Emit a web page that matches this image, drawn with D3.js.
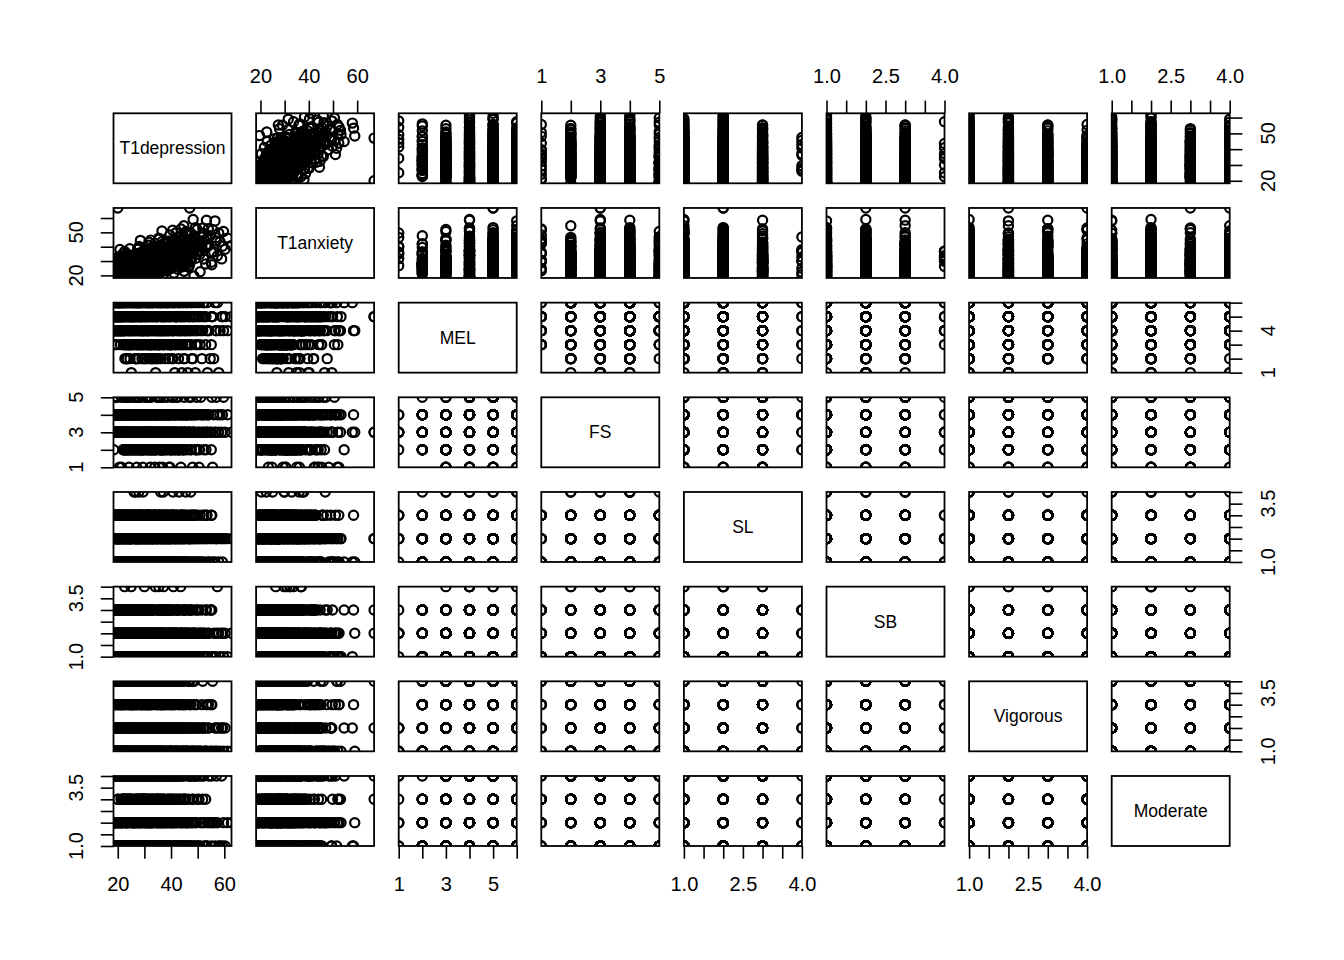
<!DOCTYPE html>
<html><head><meta charset="utf-8">
<script src="https://cdn.jsdelivr.net/npm/d3@7"></script>
<style>
body{margin:0;background:#fff;}
svg text{font-family:"Liberation Sans",Arial,Helvetica,sans-serif;}
</style>
</head><body>
<svg id="chart" width="1344" height="960"></svg>
<script>
// ---- variables (diagonal labels) ----
const varNames = ["T1depression","T1anxiety","MEL","FS","SL","SB","Vigorous","Moderate"];

const T1depression = [
18.4,18.6,18.9,19.1,19.3,19.5,19.6,19.8,20.0,20.1,20.3,20.4,20.6,20.7,20.9,21.0,21.2,21.3,21.5,21.6,
21.8,21.9,18.5,18.8,19.0,19.4,19.7,20.2,20.5,20.8,21.1,21.4,21.7,18.7,19.2,19.9,20.6,21.2,21.8,22.0,
22.1,22.2,22.4,22.5,22.7,22.8,23.0,23.1,23.3,23.4,23.6,23.7,23.9,24.0,24.2,24.3,24.5,24.6,24.8,24.9,
25.1,25.2,25.4,25.5,25.7,25.8,22.3,22.9,23.5,24.1,24.7,25.3,25.9,22.6,23.2,23.8,24.4,25.0,25.6,26.0,
26.1,26.2,26.4,26.5,26.7,26.8,27.0,27.1,27.3,27.4,27.6,27.7,27.9,28.0,28.2,28.3,28.5,28.6,28.8,28.9,
29.1,29.2,29.4,29.5,29.7,29.8,26.3,26.9,27.5,28.1,28.7,29.3,29.9,26.6,27.2,27.8,28.4,29.0,29.6,30.0,
30.1,30.3,30.4,30.6,30.7,30.9,31.0,31.2,31.3,31.5,31.6,31.8,31.9,32.1,32.2,32.4,32.5,32.7,32.8,33.0,
33.1,33.3,33.4,33.6,33.7,33.9,30.2,30.8,31.4,32.0,32.6,33.2,33.8,30.5,31.1,31.7,32.3,32.9,
34.1,34.2,34.4,34.6,34.7,34.9,35.1,35.2,35.4,35.6,35.7,35.9,36.1,36.2,36.4,36.6,36.7,36.9,37.1,37.2,
37.4,37.6,37.7,37.9,34.3,34.8,35.3,35.8,36.3,36.8,37.3,37.8,35.0,36.5,
38.1,38.3,38.4,38.6,38.8,38.9,39.1,39.3,39.4,39.6,39.8,39.9,40.1,40.3,40.4,40.6,40.8,40.9,41.1,41.3,
41.4,41.6,41.8,41.9,38.5,39.2,39.7,40.2,40.7,41.5,
42.1,42.3,42.5,42.6,42.8,43.0,43.2,43.4,43.5,43.7,43.9,44.1,44.2,44.4,44.6,44.8,44.9,45.1,45.3,45.5,
45.6,45.8,42.9,43.6,44.3,45.0,
46.1,46.3,46.6,46.8,47.1,47.3,47.6,47.8,48.1,48.3,48.6,48.8,49.1,49.3,49.6,49.8,46.5,47.4,48.4,49.5,
50.2,50.5,50.9,51.2,51.6,51.9,52.3,52.6,53.0,53.3,53.7,50.7,52.1,53.5,
54.2,54.7,55.1,55.6,56.0,56.5,57.0,57.4,57.9,55.3,
58.4,59.0,59.7,60.3,61.2,62.7,
20.0,47.0,
18.5,18.8,19.0,19.3,19.6,19.9,20.2,20.5,20.8,21.1,21.4,21.7,18.6,18.9,19.2,19.5,19.8,20.1,20.4,20.7,
21.0,21.3,21.6,21.9,18.7,19.4,20.0,20.6,21.2,21.8,
22.1,22.4,22.7,23.0,23.3,23.6,23.9,24.2,24.5,24.8,25.1,25.4,25.7,22.2,22.5,22.8,23.1,23.4,23.7,24.0,
24.3,24.6,24.9,25.2,25.5,25.8,22.6,23.5,24.4,25.3,
26.1,26.4,26.7,27.0,27.3,27.6,27.9,28.2,28.5,28.8,29.1,29.4,29.7,26.2,26.5,26.8,27.1,27.4,27.7,28.0,
28.3,28.6,28.9,29.2,29.5,29.8,26.6,27.5,28.4,29.3,
30.1,30.4,30.7,31.0,31.3,31.6,31.9,32.2,32.5,32.8,33.1,33.4,33.7,30.2,30.5,30.8,31.1,31.4,31.7,32.0,
32.3,32.6,32.9,33.2,33.5,33.8,31.5,32.4,
34.0,34.3,34.6,34.9,35.2,35.5,35.8,36.1,36.4,36.7,37.0,37.3,37.6,37.9,34.2,34.5,34.8,35.1,35.4,35.7,
36.0,36.3,36.6,36.9,37.2,37.5,
38.0,38.3,38.6,38.9,39.2,39.5,39.8,40.1,40.4,40.7,41.0,41.3,41.6,41.9,38.2,38.8,39.4,40.0,40.6,41.2,
41.8,39.1,
42.0,42.4,42.8,43.2,43.6,44.0,44.4,44.8,45.2,45.6,42.2,43.0,43.8,44.6,45.4,45.9,
46.2,46.7,47.2,47.7,48.2,48.7,49.2,49.7,46.9,48.0,
50.4,51.3,52.2,53.1,54.0,55.2,
56.8,59.3];

const T1anxiety = [
18.2,19.5,22.1,18.8,25.3,20.4,27.6,19.1,23.0,30.2,18.5,21.7,24.8,26.9,19.8,22.6,33.5,20.9,18.3,28.4,
23.7,21.2,24.1,19.0,26.2,31.8,22.9,18.6,20.1,38.0,25.7,23.3,19.4,21.5,27.0,18.9,24.5,20.6,29.1,22.3,
20.3,24.7,18.4,28.9,22.5,31.6,19.7,26.1,23.4,35.2,21.0,27.8,18.7,25.5,30.4,22.0,38.6,24.2,19.3,29.7,
26.8,21.6,33.9,23.1,18.9,27.3,25.0,20.8,32.2,22.8,28.1,19.9,24.9,36.7,21.3,26.5,23.8,30.9,20.2,25.8,
22.4,27.9,19.2,31.5,25.0,34.8,20.6,29.3,24.1,38.2,21.8,26.7,32.9,18.6,28.5,23.6,44.4,27.2,20.1,30.7,
25.9,22.9,36.1,29.8,19.5,33.4,24.6,21.4,28.0,39.7,26.3,23.2,31.1,20.9,27.6,35.5,24.4,29.0,22.1,32.3,
24.2,29.6,20.5,33.8,27.1,37.4,22.7,31.2,26.0,41.0,19.4,28.3,35.1,23.5,30.4,44.6,25.4,32.6,21.2,27.9,
39.3,29.0,23.9,34.2,26.6,42.5,30.9,20.7,28.8,36.3,24.8,31.7,22.2,33.0,27.4,38.7,25.1,29.3,
26.3,31.7,21.9,35.6,28.4,40.1,24.0,33.2,29.8,45.3,22.6,30.5,37.9,27.0,34.1,51.0,25.2,31.0,20.4,36.8,
28.9,42.6,32.4,23.7,30.0,38.5,26.8,33.9,24.9,43.8,29.2,35.0,27.7,31.4,
28.6,34.2,23.1,38.0,31.3,42.9,26.4,36.5,30.1,48.2,24.7,33.6,40.7,29.4,35.8,51.5,27.5,32.2,21.6,39.4,
34.9,45.1,30.8,25.9,37.2,44.0,28.0,33.1,36.0,41.8,
31.2,37.0,24.3,41.5,34.4,46.8,28.7,39.1,33.0,52.4,27.1,36.2,43.9,30.5,38.3,54.6,22.8,35.5,44.7,29.9,
40.6,49.3,32.7,36.9,26.0,42.1,
33.6,39.8,25.7,44.2,36.4,49.7,30.3,41.9,35.0,59.0,19.6,38.1,46.5,32.0,42.7,52.0,28.4,37.3,44.9,40.5,
36.8,42.3,22.6,47.0,39.5,53.1,31.4,44.6,27.9,58.5,40.1,34.6,49.2,45.5,
41.2,47.6,29.1,51.8,36.3,58.0,44.0,33.7,49.5,27.4,
43.5,31.5,50.6,38.2,46.0,40.8,
67.0,67.0,
21.3,18.6,26.4,20.2,23.8,19.4,29.5,22.1,18.9,25.2,20.7,31.4,24.6,19.8,22.7,27.3,18.4,21.9,33.0,20.5,
24.0,19.1,26.9,22.5,28.2,20.0,23.4,18.8,25.8,21.0,
23.6,19.9,28.7,21.4,25.9,32.8,20.4,24.3,27.1,18.8,30.3,22.6,26.0,35.6,21.8,24.9,19.3,29.0,23.2,27.7,
20.9,33.4,25.5,22.0,28.3,19.6,26.6,31.0,23.9,21.1,
25.1,21.0,30.2,23.5,27.8,34.4,19.8,26.3,29.4,22.4,32.6,24.7,37.1,28.5,20.6,26.9,31.8,23.0,25.6,40.2,
22.9,29.9,27.0,35.0,21.7,28.1,24.2,33.3,26.5,30.7,
27.3,22.8,32.1,25.4,29.8,36.9,21.5,28.2,31.3,24.1,34.7,26.7,39.8,30.4,23.3,28.9,33.6,25.9,43.1,27.6,
31.9,22.0,29.3,35.8,26.2,30.9,24.6,37.5,
29.5,24.6,34.0,27.2,31.8,38.6,23.2,30.1,33.3,26.0,36.4,28.7,42.5,32.2,25.3,30.8,35.5,27.9,46.0,29.0,
33.9,22.4,31.2,39.7,28.1,34.8,
31.9,26.9,36.5,29.6,34.1,41.3,25.4,32.7,38.0,28.3,44.6,33.5,30.7,49.8,35.3,23.6,40.0,31.0,37.2,27.4,
43.0,34.7,
35.4,29.2,40.3,32.8,44.9,37.6,26.5,42.0,34.1,50.6,38.9,31.0,47.4,36.0,28.0,41.2,
38.4,44.8,31.5,48.6,36.2,42.0,53.3,34.8,27.0,45.6,
43.8,37.5,49.0,41.0,52.5,35.9,
46.3,40.3];

const MEL = [
6,4,3,5,5,6,4,5,4,6, 5,4,6,6,5,3,4,5,5,6, 4,5,4,6,5,4,3,5,4,5, 6,4,5,5,4,4,6,5,4,5,
6,3,5,4,3,5,6,4,2,5, 3,4,6,5,3,3,5,2,4,6, 1,5,4,3,5,6,4,3,5,4, 3,6,5,4,2,6,5,3,4,6,
5,3,4,6,2,5,3,6,3,6, 4,2,5,6,3,5,4,3,6,5, 2,4,5,3,4,6,5,4,3,6, 5,3,4,2,5,6,4,3,6,5,
4,3,6,5,2,4,3,6,3,3, 4,2,6,3,3,4,5,3,6,2, 5,3,4,6,5,4,3,5,4,6, 2,5,3,6,4,5,3,6,6,1,
3,4,2,5,3,6,4,3,4,3, 6,2,5,4,5,3,6,4,3,5, 6,2,4,5,3,6,4,5,3,4, 3,6,6,5,3,4,5,6,2,4,
3,5,6,3,4,2,5,6,3,4, 5,6,1,3,3,5,6,3,3,3, 4,5,6,4,3,5,2,6,4,5, 3,4,6,1,5,3,4,6,5,2,
4,3,5,6,4,5,3,5,4,1, 3,5,4,6,3,2,5,4,6,5, 1,3,4,3,6,4,5,4,5,4, 3,5,2,4,6,5,3,4,1,6,
5,6,4,2,3,5,2,6,4,6, 1,5,4,5,4,5,4,5,5,5,
4,5,6,5,4,6,5,4,6,4, 5,6,4,5,6,5,4,6,5,4, 6,4,5,6,4,5,6,5,4,6,
3,4,2,6,5,3,4,6,5,4, 3,5,6,4,5,3,6,2,5,3, 4,6,5,4,3,5,6,2,3,5,
4,3,6,5,4,2,3,6,4,5, 6,3,4,5,6,2,3,5,6,4, 5,3,6,4,5,2,4,6,5,4,
5,2,3,6,5,4,6,3,5,4, 6,2,3,4,5,6,4,3,5,6, 4,2,3,6,4,5,6,3,
3,5,4,6,2,3,4,6,5,4, 3,6,5,4,2,5,6,4,5,3, 4,6,5,4,3,5,
4,5,3,6,4,5,6,3,4,2, 6,4,3,5,4,6,5,3,4,6, 5,4,
5,4,6,3,5,4,6,2,4,3, 5,6,4,5,4,6,
4,5,3,6,2,4,5,6,4,5,
5,4,6,5,4,5,
4,5];

const FS = [
3,5,4,3,4,3,3,5,4,3, 4,3,1,4,3,4,3,5,4,3, 3,4,2,3,5,4,3,4,3,4, 3,1,4,5,3,4,3,3,4,2,
3,4,2,5,3,4,3,2,4,5, 3,4,2,3,1,4,3,2,5,4, 3,3,2,4,3,4,5,2,3,4, 3,2,4,3,4,2,5,3,4,3,
4,2,5,3,4,3,2,1,4,3, 5,4,3,2,4,3,3,4,2,5, 3,4,1,2,3,4,5,3,2,4, 3,4,3,2,5,4,3,2,4,3,
4,3,2,5,3,4,3,2,4,3, 5,4,3,2,1,4,5,3,4,2, 3,4,3,2,4,1,3,5,4,3, 2,3,4,3,5,2,4,3,4,3,
2,3,4,5,3,4,2,1,5,3, 4,3,2,4,3,4,2,5,3,4, 3,2,4,5,3,4,2,1,3,4, 3,2,4,3,4,5,3,2,4,3,
4,1,3,2,4,3,5,4,3,2, 3,4,3,2,4,5,3,1,4,2, 3,4,3,2,4,5,3,4,2,3, 4,1,3,4,2,3,4,2,5,2,
3,4,3,4,2,3,4,3,2,4, 3,5,4,3,2,4,1,3,4,3, 2,4,5,3,4,5,3,2,4,1, 3,5,4,3,2,4,3,4,3,2,
4,3,4,3,2,1,4,3,5,4, 3,5,4,3,5,3,4,3,3,3,
3,4,3,5,4,3,4,3,4,3, 4,3,5,3,4,4,3,4,3,4, 3,4,3,4,5,3,4,3,3,4,
2,3,4,3,2,4,3,5,3,4, 2,3,4,3,4,2,3,4,5,3, 4,2,3,4,3,2,4,3,4,3,
3,4,2,3,4,3,5,2,4,3, 4,3,2,4,3,4,5,3,2,4, 3,4,3,2,4,3,4,5,3,2,
4,3,2,4,3,5,3,4,2,3, 4,3,2,4,3,4,3,5,2,4, 3,4,3,2,4,3,4,3,
3,2,4,3,4,3,2,5,3,4, 2,3,4,3,2,4,3,4,5,3, 4,2,3,4,3,2,
4,3,2,4,3,4,3,2,4,5, 3,4,2,3,4,3,4,2,3,4, 3,4,
3,4,2,3,4,3,2,4,3,4, 3,2,4,3,4,3,
4,3,2,4,3,3,4,2,3,4,
3,4,3,2,4,3,
3,4];

const SL = [
2,1,3,2,3,1,2,2,1,3, 1,2,3,2,1,3,2,1,2,3, 3,2,1,1,2,3,2,3,1,2, 2,3,1,2,1,2,3,2,3,1,
1,2,2,3,1,3,2,1,3,2, 3,1,2,2,3,1,3,2,1,2, 2,3,1,2,1,2,3,3,2,1, 1,2,3,1,2,3,2,2,3,1,
4,2,1,3,4,2,3,1,2,2, 3,1,4,2,1,3,2,2,1,3, 2,3,1,4,2,1,3,2,2,3, 1,2,3,2,1,3,2,1,2,3,
2,1,2,3,1,2,3,2,1,3, 3,2,1,2,3,1,2,3,2,1, 2,3,2,1,3,2,1,2,3,1, 1,2,3,2,1,3,2,2,1,3,
2,1,3,2,2,3,1,2,3,1, 4,2,1,3,2,1,4,2,3,2, 1,3,2,2,1,3,2,1,3,2, 3,2,1,2,3,2,1,3,2,1,
2,1,3,2,1,2,3,2,1,3, 1,2,3,1,2,3,2,1,2,3, 4,2,1,3,2,1,2,4,3,2, 1,3,2,2,1,3,2,1,3,2,
2,4,3,1,2,2,3,1,2,3, 1,2,3,2,1,2,3,1,2,3, 2,1,3,2,1,4,2,3,1,2, 3,2,1,2,3,1,2,3,2,1,
2,3,1,2,3,1,2,1,2,2, 1,3,2,2,2,2,2,2,2,2,
2,1,3,2,1,3,2,2,1,3, 1,2,3,1,2,3,2,1,2,3, 1,3,2,1,2,3,1,2,3,2,
3,2,1,2,3,1,2,3,2,1, 2,3,1,2,1,3,2,1,3,2, 1,2,3,2,1,3,2,1,2,3,
1,3,2,1,2,3,2,1,3,2, 3,1,2,3,2,1,2,3,1,2, 2,3,1,2,3,1,2,3,2,1,
2,1,3,2,3,1,2,1,3,2, 1,2,3,1,2,3,1,2,2,3, 1,3,2,1,2,3,2,1,
3,2,1,2,1,3,2,3,1,2, 2,1,3,2,3,1,2,1,3,2, 1,2,3,1,2,3,
1,2,3,2,1,3,2,1,2,3, 1,3,2,1,2,3,2,1,3,2, 1,2,
2,3,1,2,1,3,2,2,3,1, 2,1,3,2,1,2,
1,2,3,2,1,3,2,1,2,3,
2,1,3,2,1,2,
2,1];

const SB = [
1,2,3,2,1,1,2,3,2,1, 2,1,3,1,2,2,3,1,2,3, 3,1,2,1,2,3,1,2,1,2, 2,3,1,2,1,2,3,1,2,1,
1,2,2,3,1,3,2,1,1,2, 3,2,1,2,3,1,2,1,2,3, 2,1,3,1,2,2,1,3,2,1, 1,2,3,4,1,2,3,4,2,1,
2,1,3,2,1,2,3,1,2,1, 3,2,1,1,2,3,2,1,3,2, 1,3,2,1,2,1,3,2,1,2, 2,1,3,2,1,2,3,1,2,4,
3,2,1,2,1,3,2,1,2,1, 1,2,3,1,2,2,1,3,2,1, 2,1,3,2,1,2,3,1,2,1, 3,2,1,2,3,1,2,1,4,2,
1,2,3,1,2,1,4,2,3,2, 2,1,3,2,1,2,3,4,1,2, 1,3,2,1,2,3,1,2,1,3, 2,1,2,3,1,2,1,3,2,1,
3,1,2,1,2,3,1,2,1,4, 2,1,3,2,1,2,3,1,2,2, 1,2,1,3,2,1,2,3,1,2, 2,1,3,2,1,2,1,3,2,1,
3,2,1,2,1,4,2,3,1,2, 1,2,3,1,2,1,3,2,1,2, 2,3,1,2,1,3,2,1,2,3, 1,2,3,1,2,1,2,3,1,2,
2,1,2,3,3,1,2,1,2,4, 2,3,1,2,1,2,1,2,2,3,
1,2,3,1,2,2,3,1,2,1, 3,2,1,2,3,1,1,2,3,2, 1,2,3,1,2,1,3,2,1,2,
2,1,3,2,1,2,3,1,2,3, 1,2,1,3,2,1,2,3,1,2, 2,1,3,2,1,3,2,1,2,1,
3,2,1,2,1,3,2,1,2,3, 1,2,3,1,2,2,1,3,2,1, 3,1,2,1,2,3,1,2,3,2,
1,2,3,1,2,1,3,2,1,2, 3,1,2,2,1,3,2,1,3,2, 1,2,1,3,2,1,2,3,
2,1,2,3,1,2,1,3,2,1, 2,3,1,2,1,2,3,1,2,3, 1,2,3,1,2,1,
3,1,2,1,2,3,2,1,3,2, 1,2,1,3,2,1,2,3,1,2, 2,1,
1,2,3,1,2,1,2,3,1,2, 3,1,2,1,2,3,
2,1,3,2,1,2,1,3,2,1,
1,2,1,3,2,1,
1,2];

const Vigorous = [
1,2,1,3,4,1,2,3,1,4, 2,1,4,3,1,2,1,4,3,2, 1,3,2,4,1,1,2,3,4,1, 4,1,2,3,1,2,4,1,3,2,
1,4,3,2,1,4,1,2,3,1, 2,1,4,1,3,2,1,4,2,3, 1,4,2,1,3,1,4,2,1,3, 4,2,1,3,1,2,4,1,3,2,
1,3,4,2,1,1,2,4,3,1, 2,4,1,3,1,2,3,1,4,2, 3,1,2,4,1,3,2,1,4,1, 2,1,3,4,2,1,1,3,2,4,
1,4,2,1,3,2,1,4,1,3, 2,1,4,3,1,2,4,1,3,2, 1,3,2,4,1,2,1,3,4,1, 4,2,1,3,1,2,4,1,3,2,
1,4,3,1,2,1,4,2,3,1, 2,1,4,3,1,2,3,1,4,1, 3,2,1,4,1,3,2,1,4,2, 1,3,2,1,4,1,2,3,1,4,
2,1,3,4,1,2,1,4,3,2, 1,4,2,3,1,2,1,3,4,1, 3,2,1,4,1,2,3,1,4,2, 1,3,4,1,2,1,3,2,4,1,
2,1,3,1,4,2,1,3,2,1, 4,1,2,3,1,2,4,1,3,2, 1,3,2,1,4,2,1,3,1,2, 1,2,3,4,1,2,1,3,2,1,
2,1,2,1,3,4,1,2,2,1, 2,3,1,2,1,2,1,1,2,4,
1,4,2,3,1,2,4,1,3,2, 4,1,2,3,1,4,2,1,3,2, 1,4,3,1,2,4,1,2,3,1,
2,1,3,4,1,2,1,4,3,2, 1,3,2,4,1,2,4,1,3,1, 2,4,1,3,2,1,4,2,1,3,
3,1,2,4,1,3,2,1,4,2, 1,3,4,1,2,1,3,2,4,1, 2,1,3,4,2,1,3,1,2,4,
1,2,4,3,1,2,1,3,4,2, 1,4,2,1,3,2,1,4,3,1, 2,3,1,4,2,1,3,2,
4,1,2,3,1,2,4,1,3,2, 1,4,2,3,1,2,1,3,4,2, 1,2,3,1,4,2,
1,3,2,4,1,2,3,1,4,2, 1,3,2,1,4,2,1,3,2,4, 1,2,
2,1,3,1,4,2,1,3,2,1, 4,2,3,1,2,1,
1,2,3,1,2,4,1,2,3,1,
2,1,2,1,3,1,
1,2];

const Moderate = [
1,2,4,1,2,1,4,2,3,1, 2,4,1,2,1,4,2,1,4,2, 1,3,2,4,1,2,4,1,2,1, 4,2,3,1,2,4,1,3,2,4,
3,1,2,4,3,2,1,4,2,3, 1,2,3,4,1,2,4,3,1,2, 4,3,1,2,2,4,3,1,2,4, 3,1,2,4,2,3,1,4,2,1,
2,4,3,1,2,1,4,3,2,1, 3,2,1,4,2,3,1,2,4,3, 1,4,2,3,1,2,4,1,3,2, 4,1,3,2,1,4,2,3,1,2,
2,3,1,4,2,1,3,2,4,1, 1,2,4,3,1,2,1,4,2,3, 3,1,2,1,4,2,3,1,2,4, 2,4,1,3,2,1,4,2,3,1,
4,2,3,1,2,4,1,3,2,1, 1,3,2,4,1,2,3,1,4,2, 2,1,4,3,2,1,2,4,3,1, 3,2,1,2,4,3,1,2,1,4,
1,4,2,3,1,2,4,1,3,2, 2,1,3,4,2,1,1,3,2,4, 4,2,1,3,2,4,1,2,3,1, 1,3,4,2,1,2,3,4,1,2,
2,1,3,1,4,2,1,3,2,4, 3,2,1,4,2,1,3,2,4,1, 2,4,1,3,2,1,4,2,1,3, 1,2,4,3,1,2,3,1,2,4,
2,1,4,2,1,2,2,1,4,2, 1,2,1,4,2,1,2,2,3,4,
1,2,4,1,2,4,1,2,1,4, 2,1,4,2,1,2,4,1,2,4, 1,2,1,4,2,1,4,2,1,2,
3,1,2,4,3,2,1,3,4,2, 1,3,2,4,1,3,2,1,4,3, 2,1,3,4,2,1,3,2,4,1,
2,3,1,4,2,3,1,2,4,3, 1,2,3,4,1,2,3,1,4,2, 3,1,2,4,3,1,2,4,1,3,
4,1,3,2,1,4,2,3,1,2, 4,3,1,2,4,1,3,2,1,4, 2,3,1,4,2,1,3,2,
1,3,2,4,1,2,3,1,4,2, 3,1,2,4,1,3,2,1,4,2, 3,1,4,2,1,3,
2,4,1,3,2,1,4,2,3,1, 2,4,1,3,2,1,4,3,2,1, 4,2,
1,2,4,3,1,2,4,1,3,2, 1,4,2,3,1,2,
2,1,4,2,3,1,2,4,1,2,
1,2,4,1,2,4,
2,1];

// ---- tick values and tick labels ----
const ticksScore = [20,30,40,50,60];
const ticksMEL = [1,2,3,4,5,6];
const ticksFS = [1,2,3,4,5];
const ticksQuarter = [1,1.5,2,2.5,3,3.5,4];
const xLabelsScore = [20,40,60], yLabelsScore = [20,50];
const xLabelsMEL = [1,3,5], yLabelsMEL = [1,4];
const xLabelsFS = [1,3,5], yLabelsFS = [1,3,5];
const xLabelsQuarter = [1,2.5,4], yLabelsQuarter = [1,3.5];

// ---- assemble ----
const dataCols = [T1depression,T1anxiety,MEL,FS,SL,SB,Vigorous,Moderate];
const tickSets = [ticksScore,ticksScore,ticksMEL,ticksFS,ticksQuarter,ticksQuarter,ticksQuarter,ticksQuarter];
const xLabelSets = [xLabelsScore,xLabelsScore,xLabelsMEL,xLabelsFS,xLabelsQuarter,xLabelsQuarter,xLabelsQuarter,xLabelsQuarter];
const yLabelSets = [yLabelsScore,yLabelsScore,yLabelsMEL,yLabelsFS,yLabelsQuarter,yLabelsQuarter,yLabelsQuarter,yLabelsQuarter];
const fmts = [d3.format("d"),d3.format("d"),d3.format("d"),d3.format("d"),d3.format(".1f"),d3.format(".1f"),d3.format(".1f"),d3.format(".1f")];

const nVar = varNames.length;
const N = d3.min(dataCols, c => c.length);
const left0 = 113.5, top0 = 113.3, pw = 118, ph = 70, stepX = 142.6, stepY = 94.67;
const colX = j => left0 + j*stepX;
const rowY = i => top0 + i*stepY;

const xScales = dataCols.map((c,j) => d3.scaleLinear().domain(d3.extent(c.slice(0,N))).range([colX(j), colX(j)+pw]));
const yScales = dataCols.map((c,i) => d3.scaleLinear().domain(d3.extent(c.slice(0,N))).range([rowY(i)+ph, rowY(i)]));

const svg = d3.select("#chart");
svg.append("rect").attr("width",1344).attr("height",960).attr("fill","#fff");
const defs = svg.append("defs");
const idx = d3.range(N);
const R = 4.6, SW = 2.2, TICK = 12.7, FONT = 20;

for (let i = 0; i < nVar; i++) {
  for (let j = 0; j < nVar; j++) {
    const g = svg.append("g");
    const x0 = colX(j), y0 = rowY(i);
    if (i === j) {
      g.append("text").attr("x", x0 + pw/2).attr("y", y0 + ph/2)
        .attr("text-anchor","middle").attr("dominant-baseline","central")
        .attr("font-size",17.5).attr("fill","#000").text(varNames[i]);
    } else {
      const cid = `clip-${i}-${j}`;
      defs.append("clipPath").attr("id",cid).append("rect")
        .attr("x",x0).attr("y",y0).attr("width",pw).attr("height",ph);
      const xs = xScales[j], ys = yScales[i], cx = dataCols[j], cy = dataCols[i];
      g.append("g").attr("clip-path",`url(#${cid})`)
        .selectAll("circle").data(idx).join("circle")
        .attr("cx", k => xs(cx[k])).attr("cy", k => ys(cy[k])).attr("r", R)
        .attr("fill","none").attr("stroke","#000").attr("stroke-width",SW);
    }
    g.append("rect").attr("x",x0).attr("y",y0).attr("width",pw).attr("height",ph)
      .attr("fill","none").attr("stroke","#000").attr("stroke-width",1.8);
  }
}

function styleAxis(g) {
  g.select(".domain").remove();
  g.selectAll(".tick line").attr("stroke","#000").attr("stroke-width",1.6);
  g.selectAll(".tick text").attr("fill","#000");
  g.attr("font-size",FONT).attr("font-family",'"Liberation Sans",Arial,Helvetica,sans-serif');
}

for (let j = 0; j < nVar; j++) {
  const labs = xLabelSets[j], f = fmts[j];
  const fmt = d => labs.some(v => Math.abs(v-d) < 1e-9) ? f(d) : "";
  if (j % 2 === 1) {
    svg.append("g").attr("transform",`translate(0,${top0})`)
      .call(d3.axisTop(xScales[j]).tickValues(tickSets[j]).tickSize(TICK).tickSizeOuter(0).tickPadding(30-TICK).tickFormat(fmt))
      .call(styleAxis);
  } else {
    svg.append("g").attr("transform",`translate(0,${rowY(nVar-1)+ph})`)
      .call(d3.axisBottom(xScales[j]).tickValues(tickSets[j]).tickSize(TICK).tickSizeOuter(0).tickPadding(31-TICK).tickFormat(fmt))
      .call(styleAxis);
  }
}

for (let i = 0; i < nVar; i++) {
  const f = fmts[i];
  if (i % 2 === 1) {
    const g = svg.append("g").attr("transform",`translate(${left0},0)`)
      .call(d3.axisLeft(yScales[i]).tickValues(tickSets[i]).tickSize(TICK).tickSizeOuter(0).tickFormat(""))
      .call(styleAxis);
    g.selectAll("text.lab").data(yLabelSets[i]).join("text").attr("class","lab")
      .attr("transform", d => `translate(-31,${yScales[i](d)}) rotate(-90)`)
      .attr("text-anchor","middle").attr("fill","#000").text(d => f(d));
  } else {
    const xr = colX(nVar-1) + pw;
    const g = svg.append("g").attr("transform",`translate(${xr},0)`)
      .call(d3.axisRight(yScales[i]).tickValues(tickSets[i]).tickSize(TICK).tickSizeOuter(0).tickFormat(""))
      .call(styleAxis);
    g.selectAll("text.lab").data(yLabelSets[i]).join("text").attr("class","lab")
      .attr("transform", d => `translate(45,${yScales[i](d)}) rotate(-90)`)
      .attr("text-anchor","middle").attr("fill","#000").text(d => f(d));
  }
}
</script>
</body></html>
